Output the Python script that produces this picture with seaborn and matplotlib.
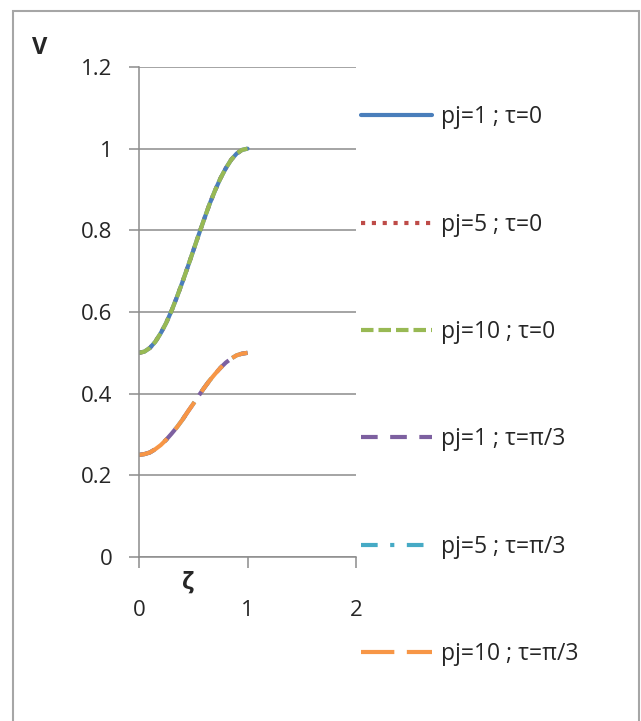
import matplotlib
matplotlib.use('Agg')
import matplotlib.pyplot as plt
from matplotlib.patches import Rectangle
import seaborn as sns
import pandas as pd

sns.set_style('white')
plt.rcParams['font.family'] = ['Open Sans', 'DejaVu Sans']

# values
zeta = [0.0, 0.05, 0.1, 0.15, 0.2, 0.25, 0.3, 0.35, 0.4, 0.45, 0.5,
        0.55, 0.6, 0.65, 0.7, 0.75, 0.8, 0.85, 0.9, 0.95, 1.0]
v_tau0 = [0.5, 0.503, 0.512, 0.527, 0.548, 0.573, 0.603, 0.637, 0.673, 0.711, 0.75,
          0.789, 0.827, 0.864, 0.897, 0.927, 0.952, 0.973, 0.988, 0.997, 1.0]
v_tau_pi3 = [0.25, 0.252, 0.256, 0.264, 0.274, 0.287, 0.302, 0.318, 0.336, 0.356, 0.375,
             0.395, 0.414, 0.432, 0.448, 0.463, 0.476, 0.486, 0.494, 0.498, 0.5]

labels = ['pj=1 ; τ=0', 'pj=5 ; τ=0', 'pj=10 ; τ=0',
          'pj=1 ; τ=π/3', 'pj=5 ; τ=π/3', 'pj=10 ; τ=π/3']
series = [v_tau0, v_tau0, v_tau0, v_tau_pi3, v_tau_pi3, v_tau_pi3]
colors = ['#4A7EBB', '#BE4B48', '#98B954', '#7D60A0', '#46AAC5', '#F79646']
styles = ['-', (0, (1, 1.6)), (0, (3, 1.2)), (0, (4, 3)), (0, (4, 3, 1, 3)), (0, (8, 3))]
# the dotted / dash-dot series sit underneath in the original
layers = [2.2, 2.0, 2.4, 2.2, 2.0, 2.4]

fig = plt.figure(figsize=(6.41, 7.21), dpi=100)
ax = fig.add_axes([139 / 641, 1 - 557 / 721, (356 - 139) / 641, (557 - 67) / 721])

for lab, vals, col, ls, z in zip(labels, series, colors, styles, layers):
    df = pd.DataFrame({'zeta': zeta, 'V': vals})
    sns.lineplot(data=df, x='zeta', y='V', ax=ax, color=col, linestyle=ls,
                 linewidth=3, label=lab, zorder=z)

grid_col = '#8C8C8C'
ax.set_xlim(0, 2)
ax.set_ylim(0, 1.2)
ax.set_xticks([0, 1, 2])
ax.set_xticklabels(['0', '1', '2'])
ax.set_yticks([0, 0.2, 0.4, 0.6, 0.8, 1.0, 1.2])
ax.set_yticklabels(['0', '0.2', '0.4', '0.6', '0.8', '1', '1.2'])
ax.set_xlabel('')
ax.set_ylabel('')
ax.grid(axis='y', color=grid_col, linewidth=1.1)
ax.set_axisbelow(True)
for s in ['top', 'right']:
    ax.spines[s].set_visible(False)
for s in ['left', 'bottom']:
    ax.spines[s].set_color(grid_col)
    ax.spines[s].set_linewidth(1.1)
ax.tick_params(axis='y', length=7, width=1.1, color=grid_col, pad=12,
               labelsize=16, direction='out', left=True)
ax.tick_params(axis='x', length=8, width=1.1, color=grid_col, pad=23,
               labelsize=16, direction='out', bottom=True)

fig.text(40 / 641, 1 - 48 / 721, 'V', fontsize=17, fontweight='bold',
         ha='center', va='center')
fig.text(188 / 641, 1 - 583 / 721, 'ζ', fontsize=17, fontweight='bold',
         ha='center', va='center')

ax.get_legend().remove()
handles, labs = ax.get_legend_handles_labels()
fig.legend(handles, labs, loc='upper left', bbox_to_anchor=(352 / 641, 1 - 96 / 721),
           frameon=False, fontsize=16.5, handlelength=3.1, handletextpad=0.4,
           labelspacing=3.64, borderaxespad=0)

fig.add_artist(Rectangle((12.5 / 641, -0.05), (639 - 12.5) / 641, 1.05 - 11 / 721,
                         transform=fig.transFigure, fill=False,
                         edgecolor='#A6A6A6', linewidth=1.5))

fig.savefig('out.png', dpi=100)
